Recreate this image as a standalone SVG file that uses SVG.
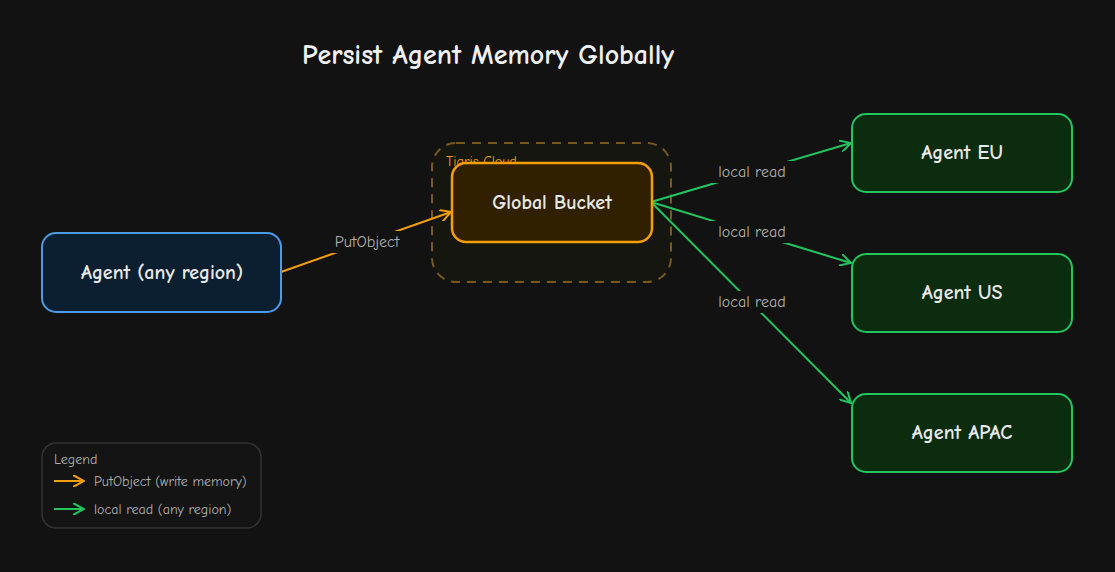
<svg xmlns="http://www.w3.org/2000/svg" width="1115" height="572" viewBox="0 0 1115 572">
<style>
text{font-family:"Comic Neue","Liberation Sans",sans-serif;}
.n{font-size:20px;fill:#e8e8e8;text-anchor:middle;font-weight:bold;}
.lbl{font-size:16px;fill:#b0b0b0;text-anchor:middle;}
.green{fill:#0c2c10;stroke:#22c55e;stroke-width:2;}
.g{stroke:#22c55e;stroke-width:2;fill:none;}
.o{stroke:#f59e0b;stroke-width:2;fill:none;}
.bg{fill:#121212;}
.lg{font-size:14px;fill:#b0b0b0;}
</style>
<defs>
<marker id="ag" viewBox="0 0 12 12" refX="11" refY="6" markerWidth="12" markerHeight="12" markerUnits="userSpaceOnUse" orient="auto"><path d="M0,0 L11,6 L0,12" fill="none" stroke="#22c55e" stroke-width="2"/></marker>
<marker id="ao" viewBox="0 0 12 12" refX="11" refY="6" markerWidth="12" markerHeight="12" markerUnits="userSpaceOnUse" orient="auto"><path d="M0,0 L11,6 L0,12" fill="none" stroke="#f59e0b" stroke-width="2"/></marker>
</defs>
<rect width="1115" height="572" fill="#121212"/>
<text x="488" y="64" font-size="28" font-weight="bold" fill="#f0f0f0" text-anchor="middle">Persist Agent Memory Globally</text>
<g id="tigris-cloud">
<rect x="432" y="143" width="239" height="139" rx="24" fill="#161611" stroke="#7a5a1c" stroke-width="2" stroke-dasharray="9 7"/>
<text x="446" y="166" font-size="14" fill="#f59e0b">Tigris Cloud</text>
</g>
<g id="connectors">
<line class="o" x1="281" y1="272" x2="451" y2="212" marker-end="url(#ao)"/>
<line class="g" x1="651" y1="202" x2="851" y2="143" marker-end="url(#ag)"/>
<line class="g" x1="651" y1="202" x2="851" y2="263" marker-end="url(#ag)"/>
<line class="g" x1="651" y1="202" x2="851" y2="403" marker-end="url(#ag)"/>
<rect class="bg" x="322" y="231" width="90" height="22"/>
<text class="lbl" x="367" y="247">PutObject</text>
<rect class="bg" x="706" y="161" width="92" height="22"/>
<text class="lbl" x="752" y="177">local read</text>
<rect class="bg" x="706" y="221" width="92" height="22"/>
<text class="lbl" x="752" y="237">local read</text>
<rect class="bg" x="706" y="291" width="92" height="22"/>
<text class="lbl" x="752" y="307">local read</text>
</g>
<g id="global-bucket">
<rect x="452" y="163" width="200" height="79" rx="14" fill="#302000" stroke="#f59e0b" stroke-width="2.5"/>
<text class="n" x="552" y="209">Global Bucket</text>
</g>
<g id="agent-any">
<rect x="42" y="233" width="239" height="79" rx="14" fill="#0c1f30" stroke="#4a9be8" stroke-width="2"/>
<text class="n" x="162" y="279">Agent (any region)</text>
</g>
<g id="agent-eu">
<rect class="green" x="852" y="114" width="220" height="78" rx="14"/>
<text class="n" x="962" y="159">Agent EU</text>
</g>
<g id="agent-us">
<rect class="green" x="852" y="254" width="220" height="78" rx="14"/>
<text class="n" x="962" y="299">Agent US</text>
</g>
<g id="agent-apac">
<rect class="green" x="852" y="394" width="220" height="78" rx="14"/>
<text class="n" x="962" y="439">Agent APAC</text>
</g>
<g id="legend">
<rect x="42" y="443" width="219" height="85" rx="14" fill="#141414" stroke="#333" stroke-width="1.5"/>
<text class="lg" x="54" y="464">Legend</text>
<line class="o" x1="54" y1="481" x2="84" y2="481" marker-end="url(#ao)"/>
<text class="lg" x="94" y="486">PutObject (write memory)</text>
<line class="g" x1="54" y1="509" x2="84" y2="509" marker-end="url(#ag)"/>
<text class="lg" x="94" y="514">local read (any region)</text>
</g>
</svg>
